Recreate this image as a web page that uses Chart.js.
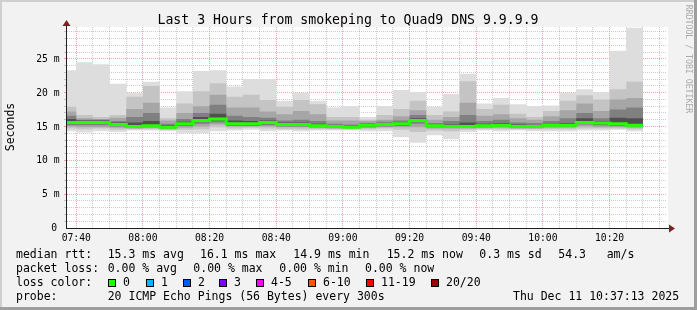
<!DOCTYPE html>
<html>
<head>
<meta charset="utf-8">
<script src="https://cdn.jsdelivr.net/npm/chart.js@4.4.1/dist/chart.umd.min.js"></script>
<style>
  html, body { margin: 0; padding: 0; background: #f2f2f2; }
  canvas { display: block; }
</style>
</head>
<body>
<canvas id="c" width="697" height="310"></canvas>
<script>
// 5 minute slots (start time), the first one is cut by the 3 hour window
const slots = ['07:35', '07:40', '07:45', '07:50', '07:55', '08:00', '08:05', '08:10', '08:15', '08:20',
  '08:25', '08:30', '08:35', '08:40', '08:45', '08:50', '08:55', '09:00', '09:05', '09:10',
  '09:15', '09:20', '09:25', '09:30', '09:35', '09:40', '09:45', '09:50', '09:55', '10:00',
  '10:05', '10:10', '10:15', '10:20', '10:25'];

// median rtt (ms)
const median = [15.6, 15.6, 15.6, 15.3, 15.0, 15.1, 14.9, 15.4, 15.9, 16.1,
  15.4, 15.4, 15.6, 15.3, 15.3, 15.1, 15.0, 14.9, 15.2, 15.3,
  15.4, 15.9, 15.1, 15.0, 15.0, 15.1, 15.2, 15.0, 15.0, 15.2,
  15.2, 15.6, 15.5, 15.4, 15.2];

// sorted pings of the 20 (smoke), upper side
const ping20 = [23.3, 24.5, 24.2, 21.3, 20.0, 21.6, 17.8, 20.2, 23.2, 23.3,
  20.9, 22.0, 22.0, 18.8, 20.0, 18.8, 17.8, 18.0, 16.4, 18.0,
  20.4, 20.1, 17.9, 19.8, 22.8, 18.4, 19.2, 18.3, 18.0, 18.1,
  20.0, 20.5, 20.1, 26.2, 29.6];
const ping18 = [17.9, 16.7, 16.4, 16.7, 19.4, 21.0, 16.2, 18.4, 20.2, 21.4,
  19.4, 19.7, 18.9, 17.9, 18.9, 18.3, 16.4, 16.4, 16.0, 16.7,
  17.6, 18.8, 16.7, 17.2, 21.7, 17.6, 18.2, 16.9, 16.4, 17.3,
  18.8, 19.6, 19.0, 20.5, 21.6];
const ping16 = [17.2, 16.2, 16.1, 16.3, 17.6, 18.5, 15.9, 17.0, 18.0, 19.7,
  17.8, 17.8, 17.2, 16.8, 17.3, 16.8, 15.9, 15.9, 15.8, 16.0,
  16.5, 17.4, 16.0, 16.4, 18.5, 16.6, 16.8, 16.2, 16.0, 16.5,
  17.4, 18.4, 17.3, 19.0, 19.2];
const ping14 = [16.6, 16.0, 16.0, 15.8, 16.4, 17.0, 15.4, 16.1, 17.0, 18.2,
  16.6, 16.4, 16.3, 15.9, 16.0, 15.8, 15.4, 15.3, 15.5, 15.7,
  15.9, 16.7, 15.5, 15.8, 16.7, 15.8, 16.0, 15.6, 15.5, 15.8,
  16.2, 17.0, 16.2, 17.5, 17.8];
const ping12 = [16.1, 15.9, 15.9, 15.6, 15.6, 15.8, 15.2, 15.7, 16.4, 16.9,
  15.9, 15.8, 15.9, 15.6, 15.6, 15.4, 15.2, 15.1, 15.4, 15.5,
  15.6, 16.2, 15.3, 15.3, 15.6, 15.4, 15.5, 15.3, 15.2, 15.4,
  15.5, 16.2, 15.8, 16.3, 16.2];

// lower side
const ping9 = [15.4, 15.4, 15.4, 15.1, 14.9, 15.0, 14.8, 15.2, 15.7, 15.9,
  15.2, 15.2, 15.4, 15.1, 15.1, 15.0, 14.9, 14.8, 15.0, 15.1,
  15.2, 15.7, 15.0, 14.9, 14.9, 15.0, 15.1, 14.9, 14.9, 15.1,
  15.1, 15.4, 15.3, 15.2, 15.1];
const ping7 = [15.2, 15.2, 15.2, 15.0, 14.8, 14.9, 14.7, 15.1, 15.4, 15.6,
  15.1, 15.1, 15.2, 15.0, 15.0, 14.9, 14.8, 14.8, 14.9, 15.0,
  15.1, 15.4, 14.9, 14.8, 14.8, 14.9, 15.0, 14.8, 14.8, 15.0,
  15.0, 15.3, 15.2, 15.1, 15.0];
const ping5 = [15.0, 14.9, 14.9, 14.8, 14.7, 14.8, 14.6, 14.8, 15.0, 15.3,
  15.0, 15.0, 15.0, 14.9, 14.9, 14.8, 14.7, 14.7, 14.8, 14.9,
  14.9, 14.9, 14.7, 14.7, 14.7, 14.8, 14.8, 14.7, 14.7, 14.8,
  14.8, 15.0, 14.9, 14.9, 14.8];
const ping3 = [14.7, 14.6, 14.7, 14.5, 14.6, 14.6, 14.5, 14.5, 14.6, 14.9,
  14.7, 14.8, 14.7, 14.6, 14.6, 14.6, 14.6, 14.6, 14.6, 14.7,
  14.5, 14.2, 14.4, 14.3, 14.5, 14.6, 14.6, 14.6, 14.6, 14.6,
  14.6, 14.7, 14.7, 14.7, 14.6];
const ping1 = [14.3, 14.1, 14.3, 14.2, 14.4, 14.4, 14.3, 14.0, 14.0, 14.3,
  14.4, 14.5, 14.3, 14.4, 14.3, 14.4, 14.4, 14.4, 14.3, 14.3,
  13.4, 12.6, 13.7, 13.1, 14.2, 14.4, 14.3, 14.4, 14.3, 14.3,
  14.3, 14.4, 14.4, 14.5, 14.3];

const xTickLabels = ['07:40', '08:00', '08:20', '08:40', '09:00', '09:20', '09:40', '10:00', '10:20'];
const yTickValues = [0, 5, 10, 15, 20, 25];
const yTickLabels = ['0', '5 m', '10 m', '15 m', '20 m', '25 m'];

const lossLabels = ['0', '1', '2', '3', '4-5', '6-10', '11-19', '20/20'];
const lossColors = ['#26ff00', '#00b8ff', '#0059ff', '#7e00ff', '#ff00ff', '#ff5500', '#ff0000', '#a00000'];

const toMin = s => { const [h, m] = s.split(':').map(Number); return h * 60 + m; };
const slotX = slots.map(toMin);
const xMin = 7 * 60 + 37 + 13 / 60;   // 07:37:13
const xMax = xMin + 180;              // 10:37:13
const yMax = 29.7;

function steps(values) {
  const pts = values.map((v, i) => ({ x: slotX[i], y: v }));
  pts.push({ x: slotX[slotX.length - 1] + 5, y: values[values.length - 1] });
  return pts;
}

const lineBase = { pointRadius: 0, stepped: true, clip: 0, borderWidth: 0, borderColor: 'transparent' };

const datasets = [{
  ...lineBase, label: 'median', data: steps(median),
  borderColor: '#26ff00', borderWidth: 3, fill: false, order: 0
}];

// smoke: outer pair lightest, inner pairs darker
const bands = [
  [ping1, ping20, '#dddddd'],
  [ping3, ping18, '#c4c4c4'],
  [ping5, ping16, '#a6a6a6'],
  [ping7, ping14, '#808080'],
  [ping9, ping12, '#505050']
];
bands.forEach(([lo, hi, color], k) => {
  const loIndex = datasets.length;
  datasets.push({ ...lineBase, data: steps(lo), fill: false, order: 30 - 2 * k });
  datasets.push({ ...lineBase, data: steps(hi), backgroundColor: color, fill: loIndex, order: 29 - 2 * k });
});

const minorGrid = 'rgba(140,140,140,0.45)';
const majorGrid = 'rgba(225,80,80,0.5)';
const mono = '"DejaVu Sans Mono", monospace';

const xGrid = [];
for (let t = 460; t < xMax; t += 5) xGrid.push(t);
const yGrid = [];
for (let v = 1; v < yMax; v++) yGrid.push(v);

const fmt = m => String(Math.floor(m / 60)).padStart(2, '0') + ':' + String(m % 60).padStart(2, '0');

const rrdDecor = {
  id: 'rrdDecor',
  beforeDraw(chart) {
    const { ctx, chartArea: a, width, height } = chart;
    ctx.save();
    ctx.fillStyle = '#f2f2f2';
    ctx.fillRect(0, 0, width, height);
    ctx.fillStyle = '#cfcfcf';
    ctx.fillRect(0, 0, width, 2);
    ctx.fillRect(0, 0, 2, height);
    ctx.fillStyle = '#9e9e9e';
    ctx.fillRect(0, height - 3, width, 3);
    ctx.fillRect(width - 3, 0, 3, height);
    ctx.fillStyle = '#ffffff';
    ctx.fillRect(a.left, a.top, a.right - a.left + 1, a.bottom - a.top);
    ctx.restore();
  },
  afterDraw(chart) {
    const { ctx, chartArea: a, scales } = chart;
    ctx.save();

    // axes with arrows
    ctx.strokeStyle = '#1f1f1f';
    ctx.lineWidth = 1;
    ctx.beginPath();
    ctx.moveTo(66.5, a.bottom + 0.5);
    ctx.lineTo(66.5, 25);
    ctx.moveTo(66, a.bottom + 0.5);
    ctx.lineTo(670, a.bottom + 0.5);
    ctx.stroke();
    ctx.fillStyle = '#801f1f';
    ctx.beginPath();
    ctx.moveTo(66.5, 20); ctx.lineTo(70.5, 26); ctx.lineTo(62.5, 26); ctx.closePath();
    ctx.fill();
    ctx.beginPath();
    ctx.moveTo(675, a.bottom + 0.5); ctx.lineTo(669, a.bottom - 3.5); ctx.lineTo(669, a.bottom + 4.5); ctx.closePath();
    ctx.fill();

    // tick labels
    ctx.fillStyle = '#000';
    ctx.font = '9.7px ' + mono;
    ctx.textBaseline = 'middle';
    ctx.textAlign = 'right';
    yTickValues.forEach((v, i) => {
      const y = scales.y.getPixelForValue(v);
      ctx.fillText(yTickLabels[i], v === 0 ? 57 : 59.5, y + 0.5);
    });
    ctx.textAlign = 'center';
    ctx.textBaseline = 'alphabetic';
    xTickLabels.forEach(l => {
      ctx.fillText(l, scales.x.getPixelForValue(toMin(l)), 241);
    });

    // title and axis title
    ctx.font = '13.2px ' + mono;
    ctx.fillText('Last 3 Hours from smokeping to Quad9 DNS 9.9.9.9', 348, 24);
    ctx.save();
    ctx.translate(11, 127);
    ctx.rotate(-Math.PI / 2);
    ctx.font = '11.5px ' + mono;
    ctx.textBaseline = 'middle';
    ctx.fillText('Seconds', 0, 0);
    ctx.restore();
    ctx.save();
    ctx.translate(688, 59);
    ctx.rotate(Math.PI / 2);
    ctx.font = '8.2px ' + mono;
    ctx.fillStyle = '#aaaaaa';
    ctx.textBaseline = 'middle';
    ctx.fillText('RRDTOOL / TOBI OETIKER', 0, 0);
    ctx.restore();

    // legend
    ctx.font = '11.5px ' + mono;
    ctx.textAlign = 'left';
    ctx.textBaseline = 'alphabetic';
    const rows = [
      [258, [[16, 'median rtt:'], [107.7, '15.3 ms avg'], [200, '16.1 ms max'], [293.3, '14.9 ms min'],
        [386.7, '15.2 ms now'], [479.3, '0.3 ms sd'], [558.3, '54.3'], [606.7, 'am/s']]],
      [272, [[16, 'packet loss:'], [107.7, '0.00 % avg'], [193.3, '0.00 % max'], [279.3, '0.00 % min'],
        [365, '0.00 % now']]],
      [286, [[16, 'loss color:']]],
      [299.5, [[16, 'probe:'], [107.7, '20 ICMP Echo Pings (56 Bytes) every 300s'], [513, 'Thu Dec 11 10:37:13 2025']]]
    ];
    rows.forEach(([y, segs]) => segs.forEach(([x, t]) => ctx.fillText(t, x, y)));

    const boxX = [108.3, 145.7, 182.7, 219, 255.7, 307.7, 365.7, 430.7];
    lossLabels.forEach((l, i) => {
      const x = Math.round(boxX[i]);
      ctx.fillStyle = lossColors[i];
      ctx.fillRect(x, 279, 8, 8);
      ctx.strokeStyle = '#000';
      ctx.strokeRect(x + 0.5, 279.5, 7, 7);
      ctx.fillStyle = '#000';
      ctx.fillText(l, x + 15, 286);
    });
    ctx.restore();
  }
};

new Chart(document.getElementById('c'), {
  type: 'line',
  data: { datasets },
  options: {
    responsive: false,
    animation: false,
    devicePixelRatio: 1,
    events: [],
    layout: { padding: { left: 64, top: 27, right: 30, bottom: 82 } },
    plugins: { legend: { display: false }, tooltip: { enabled: false }, title: { display: false } },
    scales: {
      x: {
        type: 'linear', min: xMin, max: xMax, z: 1,
        afterBuildTicks: s => { s.ticks = xGrid.map(v => ({ value: v })); },
        ticks: { display: false, callback: v => fmt(v) },
        grid: { color: c => c.tick.value % 20 === 0 ? majorGrid : minorGrid, drawTicks: false },
        border: { display: false, dash: [1, 1] }
      },
      y: {
        type: 'linear', min: 0, max: yMax, z: 1,
        afterBuildTicks: s => { s.ticks = yGrid.map(v => ({ value: v })); },
        ticks: { display: false },
        grid: { color: c => c.tick.value % 5 === 0 ? majorGrid : minorGrid, drawTicks: true, tickLength: 3 },
        border: { display: false, dash: [1, 1] }
      }
    }
  },
  plugins: [rrdDecor]
});
</script>
</body>
</html>
